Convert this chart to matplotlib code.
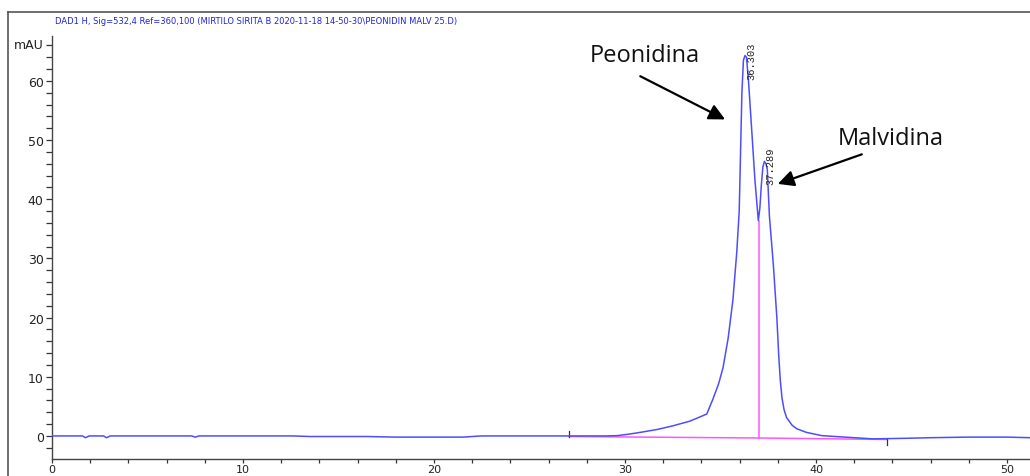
import matplotlib
matplotlib.use('Agg')
import matplotlib.pyplot as plt
from matplotlib.lines import Line2D
from matplotlib.ticker import MultipleLocator

# DAD1 H trace, retention time (min) vs absorbance (mAU)
time_min = [0.0, 1.6, 1.75, 1.95, 2.7, 2.85, 3.05, 7.3, 7.5, 7.7, 10.0, 12.6, 13.5, 15.0,
            16.5, 18.0, 19.5, 21.5, 22.5, 25.0, 27.0, 28.0, 29.0, 29.6, 30.2, 30.8,
            31.7, 32.5, 33.4, 34.28, 34.6, 34.9, 35.13, 35.4, 35.65, 35.85, 35.98,
            36.05, 36.12, 36.2, 36.28, 36.36, 36.46, 36.63, 36.8, 36.9, 36.98, 37.06,
            37.14, 37.22, 37.3, 37.38, 37.45, 37.56, 37.77, 37.95, 38.05, 38.13, 38.22,
            38.33, 38.46, 38.75, 39.0, 39.5, 40.3, 41.5, 43.0, 44.7, 46.0, 48.0, 50.0, 51.2]
signal_mau = [0.0, 0.0, -0.3, 0.0, 0.0, -0.3, 0.0, 0.0, -0.2, 0.0, 0.0, 0.0, -0.1, -0.1,
              -0.1, -0.2, -0.2, -0.2, 0.0, 0.0, 0.0, 0.0, 0.0, 0.05, 0.3, 0.6,
              1.1, 1.7, 2.5, 3.7, 6.2, 8.8, 11.5, 16.5, 23.0, 31.0, 38.0,
              48.0, 58.0, 63.5, 64.3, 64.0, 60.3, 51.9, 43.4, 39.5, 36.4, 38.5,
              42.5, 45.5, 46.4, 46.0, 45.1, 37.2, 28.8, 20.0, 13.5, 9.4, 6.4,
              4.4, 3.1, 1.8, 1.2, 0.6, 0.05, -0.2, -0.5, -0.4, -0.3, -0.2, -0.2, -0.3]

# integration baseline and peak split
base_time = [27.07, 37.0, 43.7]
base_mau = [-0.1, -0.35, -0.6]
split_time = 37.0
split_top = 36.4

peak_times = [36.303, 37.289]
peak_heights = [64.3, 46.4]
compounds = ['Peonidina', 'Malvidina']
label_pos = [(31.05, 64.4), (43.9, 50.4)]
arrow_tail = [(30.8, 60.8), (42.4, 47.6)]
arrow_tip = [(35.24, 53.5), (38.0, 42.6)]

header = 'DAD1 H, Sig=532,4 Ref=360,100 (MIRTILO SIRITA B 2020-11-18 14-50-30\\PEONIDIN MALV 25.D)'

narrow = ['DejaVu Sans']
W, H = 1030, 477

fig = plt.figure(figsize=(W / 100, H / 100), dpi=100)
ax = fig.add_axes([52 / W, (H - 460) / H, 1 - 52 / W, (460 - 37) / H])

ax.plot(time_min, signal_mau, color='#4d4dff', lw=1.1, zorder=3)
ax.plot(base_time, base_mau, color='#ff55ff', lw=1.1, zorder=2)
ax.plot([split_time, split_time], [base_mau[1], split_top], color='#ff55ff', lw=1.1, zorder=2)

# start / end marks of the integration
ax.plot([base_time[0]] * 2, [base_mau[0], base_mau[0] + 0.9], color='#333333', lw=0.9)
ax.plot([base_time[-1]] * 2, [base_mau[-1], base_mau[-1] - 0.9], color='#333333', lw=0.9)

for t, h in zip(peak_times, peak_heights):
    ax.text(t + 0.3, h - 3.9, '%.3f' % t, rotation=90, ha='center', va='bottom',
            fontsize=7.5, family=['Liberation Mono', 'DejaVu Sans Mono'], color='#222222')

for name, pos, tail, tip in zip(compounds, label_pos, arrow_tail, arrow_tip):
    ax.text(pos[0], pos[1], name, ha='center', va='center', fontsize=17,
            family=['Open Sans', 'DejaVu Sans'], color='#111111')
    ax.annotate('', xy=tip, xytext=tail,
                arrowprops=dict(arrowstyle='-|>', color='black', lw=1.6, mutation_scale=24,
                                shrinkA=0, shrinkB=0))

ax.set_xlim(0, (W - 52) / 19.1)
ax.set_ylim(-3.9, 67.6)
ax.xaxis.set_major_locator(MultipleLocator(10))
ax.xaxis.set_minor_locator(MultipleLocator(2))
ax.yaxis.set_major_locator(MultipleLocator(10))
ax.yaxis.set_minor_locator(MultipleLocator(2))
ax.tick_params(which='both', direction='out', length=4, width=0.9, color='#333333',
               labelsize=9, labelcolor='#222222', pad=2)
ax.tick_params(axis='x', which='both', length=3, labelsize=8, pad=0.5)
for lab in ax.get_xticklabels() + ax.get_yticklabels():
    lab.set_family(narrow)
for side in ['top', 'right']:
    ax.spines[side].set_visible(False)
for side in ['left', 'bottom']:
    ax.spines[side].set_color('#444444')
    ax.spines[side].set_linewidth(1.0)

ax.text(-0.45, 66.2, 'mAU', ha='right', va='center', fontsize=9, family=narrow,
        color='#222222')
fig.text(55 / W, 1 - 21 / H, header, ha='left', va='center', fontsize=6, family=narrow,
         color='#2222dd')

# outer frame, left and top edges
fig.add_artist(Line2D([8 / W, 8 / W], [0, 1 - 13 / H], color='#555555', lw=1.2))
fig.add_artist(Line2D([8 / W, 1], [1 - 13 / H, 1 - 13 / H], color='#555555', lw=1.2))

fig.savefig('out.png', dpi=100)
